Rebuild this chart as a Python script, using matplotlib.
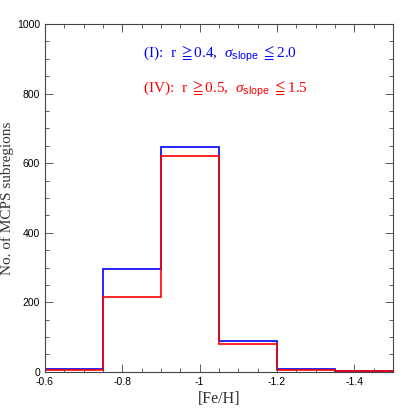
import matplotlib
matplotlib.use("Agg")
import matplotlib.pyplot as plt
import matplotlib.ticker as mticker

# -- Data -------------------------------------------------------------------
BIN_EDGES = [-0.6, -0.75, -0.9, -1.05, -1.2, -1.35, -1.5]
COUNTS_I = [8, 297, 647, 88, 7, 2]      # (I): r >= 0.4, sigma_slope <= 2.0
COUNTS_IV = [5, 215, 621, 79, 5, 2]     # (IV): r >= 0.5, sigma_slope <= 1.5

SERIF = ["Liberation Serif", "DejaVu Serif", "DejaVu Sans"]
SANS = ["Liberation Sans", "DejaVu Sans"]

plt.rcParams.update({
    "font.family": SANS,
    "mathtext.fontset": "custom",
    "mathtext.rm": "Liberation Serif",
    "mathtext.it": "Liberation Serif:italic",
    "mathtext.sf": "Liberation Sans",
    "mathtext.fallback": "stix",
})

fig = plt.figure(figsize=(4.15, 4.15), dpi=100)
ax = fig.add_axes([0.108, 0.104, 0.839, 0.838])

ax.stairs(COUNTS_I, BIN_EDGES, color="#0000ff", linewidth=1.2)
ax.stairs(COUNTS_IV, BIN_EDGES, color="#ff0000", linewidth=1.2)

ax.set_xlim(-0.6, -1.5)
ax.set_ylim(0, 1000)

ax.xaxis.set_major_locator(mticker.MultipleLocator(0.2))
ax.xaxis.set_minor_locator(mticker.MultipleLocator(0.05))
ax.yaxis.set_major_locator(mticker.MultipleLocator(200))
ax.yaxis.set_minor_locator(mticker.MultipleLocator(50))
ax.xaxis.set_major_formatter(mticker.FuncFormatter(lambda v, p: f"{v:g}"))

ax.tick_params(which="both", direction="in", top=True, right=True,
               labelsize=7.5, width=0.6, colors="#444444", labelcolor="black")
ax.tick_params(which="major", length=6)
ax.tick_params(which="minor", length=3)
for s in ax.spines.values():
    s.set_linewidth(0.8)
    s.set_color("#444444")

ax.set_xlabel("[Fe/H]", family=SERIF, fontsize=11.5, color="#333333",
              labelpad=3)
ax.set_ylabel("No. of MCPS subregions", family=SERIF, fontsize=11,
              color="#333333")
ax.yaxis.set_label_coords(-0.088, 0.5)

ax.text(-0.853, 912,
        r"(I):  r $\geqq$0.4,  $\sigma_{\mathsf{slope}}$ $\leqq$2.0",
        family=SERIF, fontsize=11, color="#0000ff", va="center")
ax.text(-0.853, 812,
        r"(IV):  r $\geqq$0.5,  $\sigma_{\mathsf{slope}}$ $\leqq$1.5",
        family=SERIF, fontsize=11, color="#ff0000", va="center")

fig.savefig("out.png", dpi=100, facecolor="white")
